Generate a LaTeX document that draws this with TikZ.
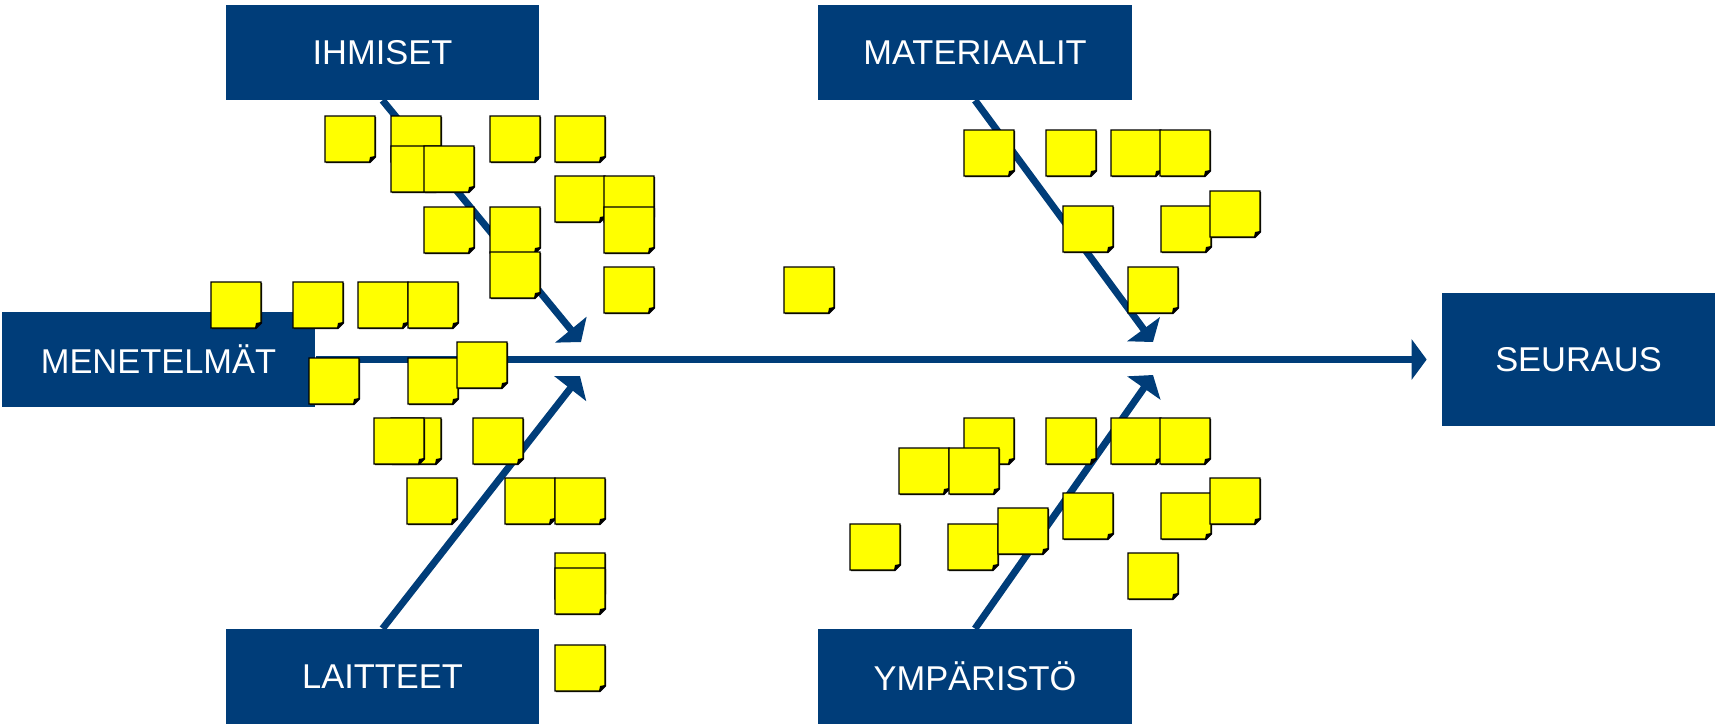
\documentclass[tikz,border=0pt]{standalone}
\usepackage{fontspec}
\setmainfont{Liberation Sans}
\usetikzlibrary{arrows.meta}
\definecolor{navy}{RGB}{0,61,121}
\definecolor{noteyellow}{RGB}{255,255,0}
\tikzset{
  catbox/.style={fill=navy, text=white, inner sep=0pt, minimum width=6.27cm, minimum height=1.9cm, font=\fontsize{19.6}{23}\selectfont},
  bone/.style={draw=navy, line width=4pt, -{Triangle[length=9.1pt,width=22.8pt]}},
  spine/.style={draw=navy, line width=4.5pt, -{Triangle[length=8.6pt,width=22.8pt]}},
  note/.pic={
    \fill[black] (1.2,1.2) -- (51.2,1.2) -- (51.2,41.2) -- (45.2,47.2) -- (1.2,47.2) -- cycle;
    \filldraw[fill=noteyellow, draw=black, line width=0.6pt] (0,0) -- (50,0) -- (50,40) -- (44,46) -- (0,46) -- cycle;
    \fill[black] (50,40) -- (44,46) -- (45,41) -- cycle;
  }
}
\begin{document}
\begin{tikzpicture}[x=0.02cm, y=-0.02cm]
\useasboundingbox (0,0) rectangle (1715,725);
% category boxes
\node[catbox] (ihm) at (382.5,52.5) {IHMISET};
\node[catbox] (mat) at (975,52.5) {MATERIAALIT};
\node[catbox] (men) at (158.5,359.5) {MENETELMÄT};
\node[catbox] (lai) at (382.5,676.5) {LAITTEET};
\node[catbox] (ymp) at (975,676.5) {YMPÄRISTÖ};
\node[catbox, minimum width=5.46cm, minimum height=2.66cm] (seu) at (1578.5,359.5) {SEURAUS};
% arrow tips on the spine
\coordinate (tihm) at (581,342);
\coordinate (tlai) at (580,376);
\coordinate (tmat) at (1153,342);
\coordinate (tymp) at (1153,375);
% bones
\draw[spine] (men.east) -- ([xshift=-0.3cm]seu.west);
\draw[bone] (ihm.south) -- (tihm);
\draw[bone] (lai.north) -- (tlai);
\draw[bone] (mat.south) -- (tmat);
\draw[bone] (ymp.north) -- (tymp);
% sticky notes
\foreach \x/\y in {
  325/116, 391/116, 391/146, 424/146, 490/116, 555/116, 555/176, 604/176, 604/207,
  424/207, 490/207, 490/252, 604/267, 211/282, 293/282, 358/282, 408/282,
  309/358, 408/358, 457/342, 391/418, 374/418, 473/418, 407/478, 505/478, 555/478,
  555/553, 555/568, 555/645, 784/267,
  964/130, 1046/130, 1111/130, 1160/130, 1063/206, 1161/206, 1210/191, 1128/267,
  964/418, 899/448, 949/448, 1046/418, 1111/418, 1160/418, 1063/493, 1161/493, 1210/478,
  850/524, 948/524, 998/508, 1128/553}
  {\pic at (\x,\y) {note};}
\end{tikzpicture}
\end{document}
